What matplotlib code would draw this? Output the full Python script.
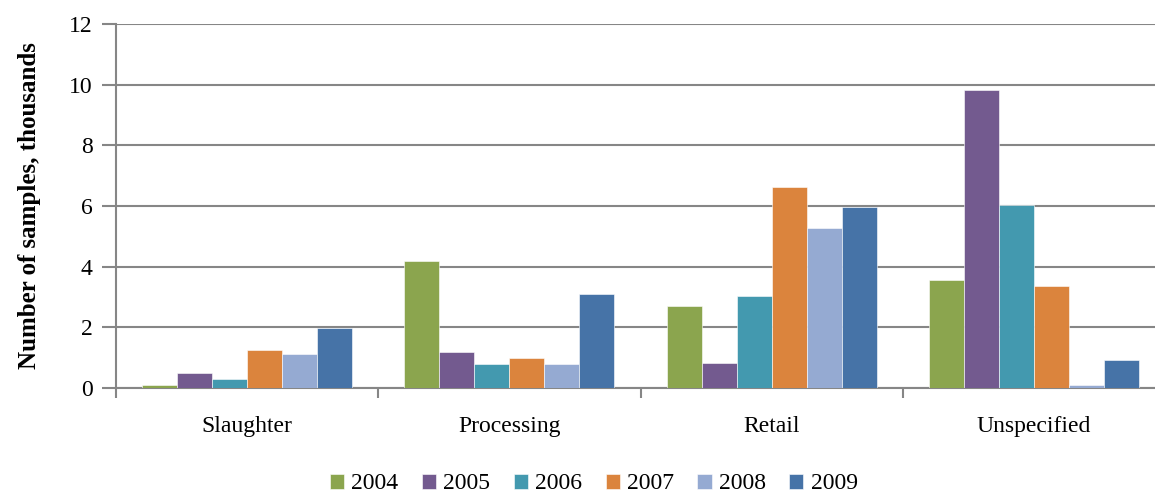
import matplotlib
matplotlib.use("Agg")
import matplotlib.pyplot as plt
import numpy as np

categories = ["Slaughter", "Processing", "Retail", "Unspecified"]
years = ["2004", "2005", "2006", "2007", "2008", "2009"]
values_2004 = [0.1, 4.19, 2.71, 3.55]
values_2005 = [0.5, 1.19, 0.81, 9.81]
values_2006 = [0.3, 0.8, 3.03, 6.02]
values_2007 = [1.25, 1.0, 6.61, 3.35]
values_2008 = [1.12, 0.8, 5.27, 0.1]
values_2009 = [1.98, 3.1, 5.98, 0.93]
series = [values_2004, values_2005, values_2006, values_2007, values_2008, values_2009]
colors = ["#8BA54E", "#735A8F", "#4399AF", "#DB843D", "#95AAD2", "#4673A7"]

plt.rcParams['font.family'] = ['Liberation Serif', 'DejaVu Serif']

fig = plt.figure(figsize=(11.55, 4.96), dpi=100)
ax = fig.add_axes([116 / 1155, 108 / 496, (1165 - 116) / 1155, 364 / 496])

x = np.arange(len(categories))
width = 0.8 / len(series)
for i, (vals, col, yr) in enumerate(zip(series, colors, years)):
    offs = (i - (len(series) - 1) / 2) * width
    ax.bar(x + offs, vals, width, color=col, label=yr, edgecolor="white", linewidth=0.4, zorder=3)

ax.set_xlim(-0.5, len(categories) - 0.5)
ax.set_ylim(0, 12)
ax.set_yticks(np.arange(0, 13, 2))
ax.yaxis.grid(True, color="#868686", linewidth=1.5, zorder=0)
ax.set_xticks(x)
ax.set_xticklabels(categories, fontsize=17)
ax.tick_params(axis='x', length=0, pad=20)
ax.set_xticks(np.arange(-0.5, len(categories)), minor=True)
ax.tick_params(axis='x', which='minor', length=7, width=1.5, color="#868686")
ax.tick_params(axis='y', labelsize=17, length=10, width=1.5, color="#868686", pad=7)

for s in ["top", "right"]:
    ax.spines[s].set_visible(False)
for s in ["left", "bottom"]:
    ax.spines[s].set_color("#868686")
    ax.spines[s].set_linewidth(1.5)

ax.set_ylabel("Number of samples, thousands", fontsize=18, fontweight="bold", labelpad=20)

fig.legend(loc="lower center", bbox_to_anchor=(0.514, -0.035), ncol=6, frameon=False,
           fontsize=17, handlelength=0.6, handleheight=0.6, handletextpad=0.3, columnspacing=1.0,
           borderpad=0.3)

fig.savefig("out.png", dpi=100)
